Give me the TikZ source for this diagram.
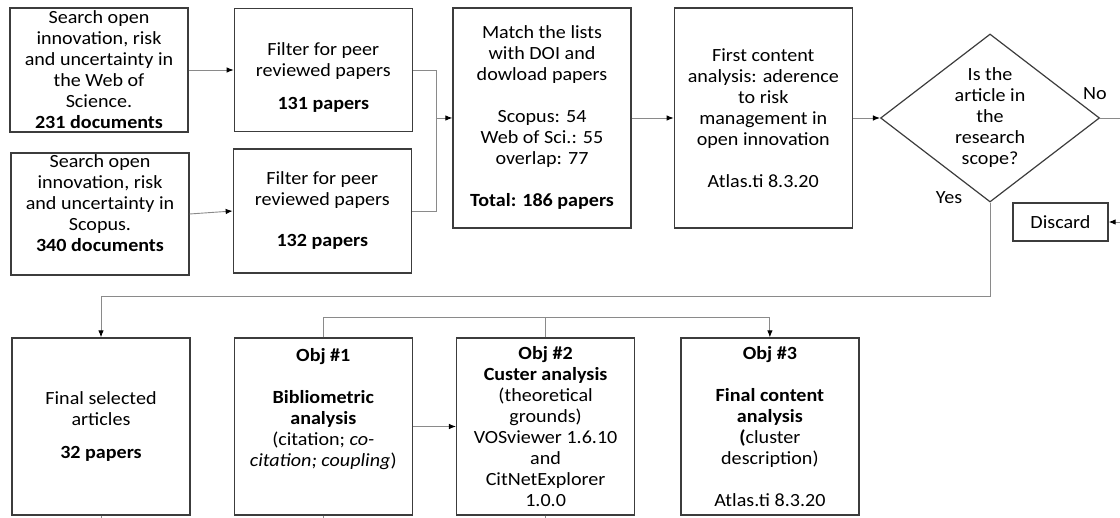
\documentclass[tikz,border=0pt]{standalone}
\usepackage{fontspec}
\setmainfont{Carlito}[FakeStretch=1.08]
\usepackage{xcolor}
\usetikzlibrary{positioning,shapes.geometric,arrows.meta}

\definecolor{boxgray}{HTML}{3C3C3C}
\definecolor{linegray}{HTML}{8A8A8A}

\begin{document}
\begin{tikzpicture}[
  x=1pt, y=-1pt,
  font=\fontsize{18.6}{21}\selectfont,
  box/.style={draw=boxgray, line width=1.3pt, align=center, minimum width=178pt, inner sep=0pt},
  query/.style={diamond, draw=boxgray, line width=1.2pt, minimum width=219pt, minimum height=168pt, inner sep=0pt},
  link/.style={draw=linegray, line width=0.9pt},
  flow/.style={link, -{Latex[length=7pt, width=5.5pt, color=black]}}
]
\useasboundingbox (0,0) rectangle (1120,518);

% Search and filtering
\node[box, minimum height=124pt] (wos) at (99,70) {Search open\\innovation, risk\\and uncertainty in\\the Web of\\Science.\\\textbf{231 documents}};
\node[box, minimum height=123pt, right=45pt of wos] (filterwos) {\strut\\[-7pt]Filter for peer\\reviewed papers\\[12pt]\textbf{131 papers}};
\node[box, minimum height=122pt] (scopus) at (100,214) {Search open\\innovation, risk\\and uncertainty in\\Scopus.\\\textbf{340 documents}\\[-6pt]\strut};
\node[box, minimum height=124pt, right=43pt of scopus, yshift=3pt] (filterscopus) {Filter for peer\\reviewed papers\\[20pt]\textbf{132 papers}};

% Matching and screening
\node[box, minimum height=220pt] (match) at (542,118) {Match the lists\\with DOI and\\dowload papers\\[21pt]Scopus: 54\\Web of Sci.: 55\\overlap: 77\\[21pt]\textbf{Total: 186 papers}};
\node[box, minimum height=220pt, right=42pt of match] (screen) {First content\\analysis: aderence\\to risk\\management in\\open innovation\\[21pt]Atlas.ti 8.3.20};
\node[query, right=27pt of screen, label={[align=center]center:Is the\\article in\\the\\research\\scope?}] (query) {};
\node[box, minimum width=95pt, minimum height=38pt] (discard) at (1060.5,222) {Discard};
\node (no) at (1095,94) {No};
\node (yes) at (949,198) {Yes};

% Selected articles and objectives
\node[box, minimum height=177pt] (final) at (101,426.5) {Final selected\\articles\\[12pt]\textbf{32 papers}};
\node[box, minimum height=177pt, right=43pt of final] (biblio) {\textbf{Obj \#1}\\[21pt]\textbf{Bibliometric}\\\textbf{analysis}\\(citation; \textit{co-}\\\textit{citation; coupling})\\[11pt]\strut};
\node[box, minimum height=177pt, right=43pt of biblio] (cluster) {\textbf{Obj \#2}\\\textbf{Custer analysis}\\(theoretical\\grounds)\\VOSviewer 1.6.10\\and\\CitNetExplorer\\1.0.0};
\node[box, minimum height=177pt, right=45pt of cluster] (content) {\textbf{Obj \#3}\\[21pt]\textbf{Final content}\\\textbf{analysis}\\\textbf{(}cluster\\description)\\[21pt]Atlas.ti 8.3.20};

\coordinate (join) at ([xshift=23pt]filterwos.east |- match.west);
\coordinate (yesrow) at (0,296);

% Top row
\draw[flow] (wos) -- (filterwos);
\draw[flow] (scopus.east) -- (filterscopus.west);
\draw[link] (filterwos.east) -| (join) |- (filterscopus.east);
\draw[flow] (join) -- (match);
\draw[flow] (match) -- (screen);
\draw[flow] (screen) -- (query);
\draw[flow] (query.east) -- ++(21,0) |- (discard.east);

% Down to the selection and objectives
\draw[flow] (query.south) -- (query.south |- yesrow) -| (final.north);
\draw[flow] (biblio.north) -- ++(0,-20) -| (content.north);
\draw[link] (cluster.north) -- ++(0,-20);
\draw[flow] (biblio) -- (cluster);

% Lines leaving the page
\draw[link] (final.south) -- ++(0,6);
\draw[link] (biblio.south) -- ++(0,6);
\draw[link] (cluster.south) -- ++(0,6);
\end{tikzpicture}
\end{document}
